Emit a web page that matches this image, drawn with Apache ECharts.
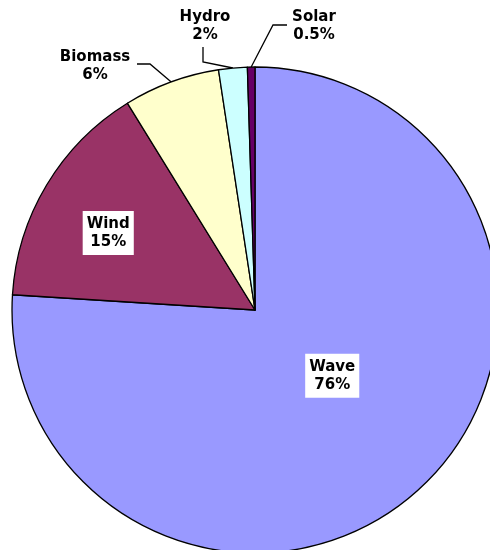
<!DOCTYPE html>
<html>
<head>
<meta charset="utf-8">
<script src="https://cdn.jsdelivr.net/npm/echarts@6/dist/echarts.min.js"></script>
<style>html,body{margin:0;padding:0;background:#fff;}#c{width:490px;height:550px;}</style>
</head>
<body>
<div id="c"></div>
<script>
var categories = ['Wave', 'Wind', 'Biomass', 'Hydro', 'Solar'];
var values = [76, 15.2, 6.4, 1.9, 0.5];
var percentLabels = ['76%', '15%', '6%', '2%', '0.5%'];
var colors = ['#9999FF', '#993366', '#FFFFCC', '#CCFFFF', '#660066'];
var insideLabels = [true, true, false, false, false];

// label placement tweaks (layout only)
var insideShift = [[-8, -25], [-40, -13]];
var outsidePos = {2: [95, 66], 3: [205, 26], 4: [314, 26]};

var chart = echarts.init(document.getElementById('c'), null, {renderer: 'canvas'});
var data = categories.map(function (name, i) {
  var item = {
    name: name,
    value: values[i],
    itemStyle: {color: colors[i]}
  };
  if (insideLabels[i]) {
    item.label = {
      position: 'inside',
      backgroundColor: '#fff',
      padding: [4, 4, 4, 4]
    };
    item.labelLine = {show: false};
  } else {
    item.label = {position: 'outside'};
    item.labelLine = {show: true, length: 14, length2: 12};
  }
  return item;
});

chart.setOption({
  animation: false,
  backgroundColor: '#fff',
  series: [{
    type: 'pie',
    center: [255, 310],
    radius: [0, 243],
    startAngle: 90,
    clockwise: true,
    data: data,
    itemStyle: {borderColor: '#000', borderWidth: 1.3},
    label: {
      show: true,
      color: '#000',
      fontFamily: 'DejaVu Sans',
      fontWeight: 'bold',
      fontSize: 15,
      lineHeight: 18,
      align: 'center',
      overflow: 'none',
      formatter: function (p) { return p.name + '\n' + percentLabels[p.dataIndex]; }
    },
    labelLine: {lineStyle: {color: '#000', width: 1.3}},
    labelLayout: function (p) {
      var i = p.dataIndex;
      if (insideLabels[i]) {
        return {dx: insideShift[i][0], dy: insideShift[i][1]};
      }
      var pos = outsidePos[i];
      var edge = p.labelLinePoints ? p.labelLinePoints[0] : [pos[0], pos[1]];
      var pts;
      if (i === 2) {
        pts = [edge, [pos[0] + 55, pos[1] - 2], [pos[0] + 42, pos[1] - 2]];
      } else if (i === 3) {
        pts = [edge, [pos[0] - 2, pos[1] + 36], [pos[0] - 2, pos[1] + 21]];
      } else {
        pts = [edge, [pos[0] - 41, pos[1] - 1], [pos[0] - 27, pos[1] - 1]];
      }
      return {
        x: pos[0], y: pos[1],
        align: 'center', verticalAlign: 'middle',
        labelLinePoints: pts
      };
    },
    emphasis: {disabled: true}
  }]
});
</script>
</body>
</html>
